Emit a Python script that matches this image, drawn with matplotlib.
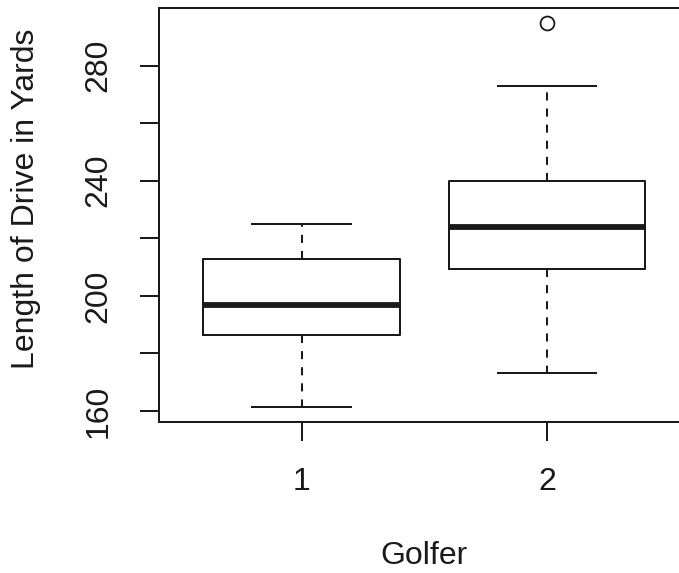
import matplotlib
matplotlib.use("Agg")
from matplotlib import pyplot as plt

plt.rcParams["font.family"] = ["Liberation Sans", "DejaVu Sans"]

# Five-number summaries (yards)
golfers = ["1", "2"]
whisker_low = [161.5, 173.2]
q1 = [186.5, 209.3]
medians = [196.9, 223.9]
q3 = [212.7, 240.0]
whisker_high = [225.1, 272.8]
outliers = [[], [294.7]]

y_ticks = [160, 180, 200, 220, 240, 260, 280]
y_ticklabels = ["160", "", "200", "", "240", "", "280"]

stats = []
for i, g in enumerate(golfers):
    stats.append(dict(label=g, whislo=whisker_low[i], q1=q1[i], med=medians[i],
                      q3=q3[i], whishi=whisker_high[i], fliers=outliers[i]))

fig = plt.figure(figsize=(6.79, 5.73), dpi=100)
ax = fig.add_axes([159 / 679, 151 / 573, 530.7 / 679, 414 / 573])

lw = 1.45
ax.bxp(stats, positions=[1, 2], widths=0.8, showfliers=True,
       boxprops=dict(color="#1a1a1a", lw=lw),
       medianprops=dict(color="#1a1a1a", lw=4.2, solid_capstyle="butt"),
       whiskerprops=dict(color="#1a1a1a", lw=lw, linestyle=(0, (4, 4))),
       capprops=dict(color="#1a1a1a", lw=lw),
       capwidths=0.4,
       flierprops=dict(marker="o", markersize=10, markerfacecolor="none",
                       markeredgecolor="#1a1a1a", markeredgewidth=1.3))

ax.set_xlim(0.42, 2.58)
ax.set_ylim(156.2, 300.0)

ax.set_yticks(y_ticks)
ax.set_yticklabels(y_ticklabels, rotation=90, va="center")
ax.set_xticks([1, 2])
ax.set_xticklabels(golfers)

for s in ax.spines.values():
    s.set_linewidth(lw)
    s.set_color("#1a1a1a")

ax.tick_params(axis="both", length=13.7, width=lw, color="#1a1a1a",
               labelsize=23, labelcolor="#1a1a1a", pad=19)

fig.text(424 / 679, 1 - 556 / 573, "Golfer", ha="center", va="center",
         fontsize=23, color="#1a1a1a")
fig.text(26 / 679, 1 - 199 / 573, "Length of Drive in Yards", ha="center",
         va="center", rotation=90, fontsize=23, color="#1a1a1a")

fig.savefig("out.png", dpi=100)
